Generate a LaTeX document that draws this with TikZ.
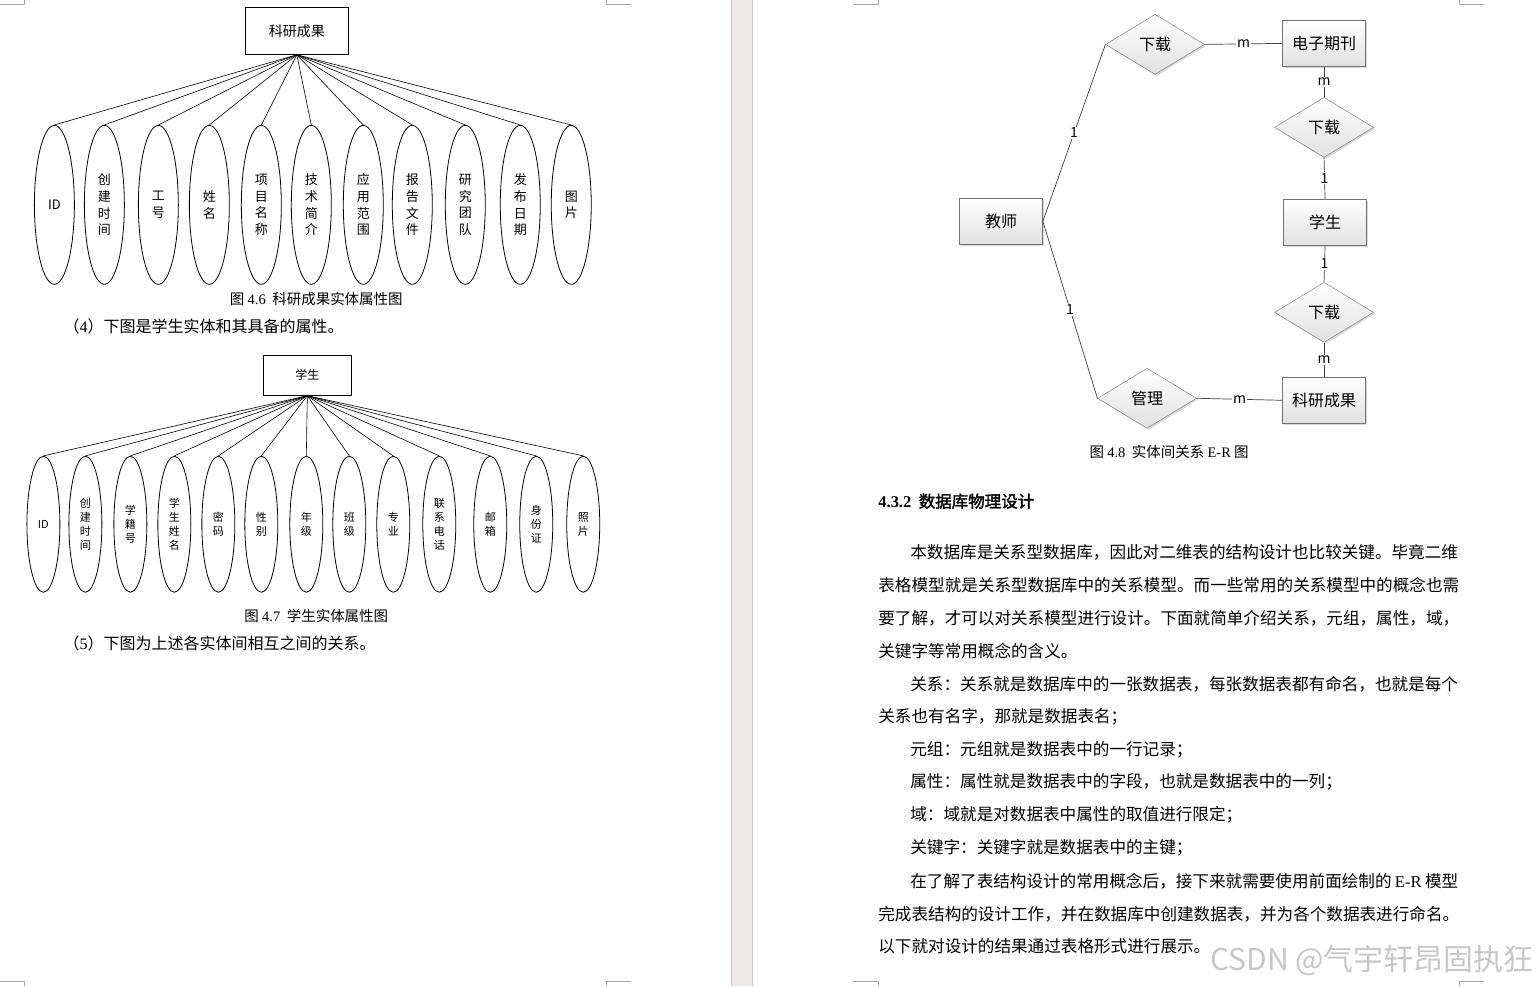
\documentclass[tikz,border=0pt]{standalone}
\usepackage{fontspec}
\setmainfont{Liberation Serif}
\newfontfamily\cjk{Noto Sans CJK SC}
\newfontfamily\cjkb[FakeBold=2]{Noto Sans CJK SC}
\usetikzlibrary{shapes.geometric, shadows}
\XeTeXlinebreaklocale "zh"
\XeTeXlinebreakskip=0pt plus 1pt
\definecolor{gap}{RGB}{236,233,231}
\newcommand{\fs}[1]{\fontsize{#1}{#1}\selectfont}
\newcommand{\jl}[2]{\hbox to #1{#2}}
\tikzset{
  ent/.style = {rectangle, draw=black, fill=white, inner sep=0pt,
    line width=0.8pt, font=\cjk\fs{14}},
  att/.style = {ellipse, draw=black, fill=white, inner sep=0pt, align=center,
    line width=0.8pt, font=\cjk\fontsize{13}{16.7}\selectfont},
  lk/.style = {draw=black, line width=0.6pt},
  erb/.style = {rectangle, draw=black!55, top color=white, bottom color=black!12,
    drop shadow={shadow xshift=1.5pt, shadow yshift=-1.5pt, fill=black!30},
    minimum width=83pt, minimum height=46pt, font=\cjk\fs{16}},
  rel/.style = {diamond, draw=black!55, top color=white, bottom color=black!12,
    drop shadow={shadow xshift=1.5pt, shadow yshift=-1.5pt, fill=black!30},
    minimum width=99pt, minimum height=60pt, inner sep=0pt, font=\cjk\fs{16}},
  el/.style = {draw=black!75, line width=0.7pt},
  card/.style = {fill=white, inner sep=1pt, font=\cjk\fs{14}},
  leg/.style = {inner sep=0pt, font=\cjk\fs{14.5}},
  txt/.style = {anchor=west, inner sep=0pt, font=\cjk\fs{16.6}},
  mk/.style = {draw=black!35, line width=0.8pt}
}

\begin{document}
\begin{tikzpicture}[x=1pt, y=-1pt]
  \fill [white] (0,0) rectangle (1537,986);
  % page gap
  \fill [gap] (731,0) rectangle (752,986);
  \draw [black!22] (731,0) -- (731,986) (752,0) -- (752,986);
  \draw [mk] (0,4) -- (24,4) -- (24,0) (606,0) -- (606,4) -- (631,4);
  \draw [mk] (853,4) -- (878,4) -- (878,0) (1459,0) -- (1459,4) -- (1484,4);
  \draw [mk] (0,981) -- (24,981) -- (24,986) (606,986) -- (606,981) -- (631,981);
  \draw [mk] (853,981) -- (878,981) -- (878,986) (1459,986) -- (1459,981) -- (1484,981);

  % fig 4.6
  \node [ent, minimum width=103pt, minimum height=47pt] (kb) at (296.5,30.5) {科研成果};
  \foreach \x/\t [count=\i] in {54/ID, 104/创\\建\\时\\间, 158/工\\号, 209/姓\\名,
      261/项\\目\\名\\称, 311/技\\术\\简\\介, 363/应\\用\\范\\围, 412/报\\告\\文\\件,
      465/研\\究\\团\\队, 520/发\\布\\日\\期, 571/图\\片}
    \node [att, minimum width=40pt, minimum height=159pt] (a\i) at (\x,204.5) {\t};
  \foreach \i in {1,...,11} \draw [lk] (kb.south) -- (a\i.north);
  \node [leg] (c46) at (316,299) {图 {\rmfamily 4.6}\ \ 科研成果实体属性图};
  \node [txt, font=\cjk\fs{16}] (p4) at (63,326) {（{\rmfamily 4}）下图是学生实体和其具备的属性。};

  % fig 4.7
  \node [ent, minimum width=88pt, minimum height=40pt, font=\cjk\fs{12}] (xs) at (307,375) {学生};
  \foreach \x/\t [count=\i] in {43/ID, 85/创\\建\\时\\间, 130/学\\籍\\号, 174/学\\生\\姓\\名,
      218/密\\码, 261/性\\别, 306/年\\级, 349/班\\级, 393/专\\业, 439/联\\系\\电\\话,
      490/邮\\箱, 536/身\\份\\证, 583/照\\片}
    \node [att, minimum width=33pt, minimum height=136pt,
      font=\cjk\fontsize{11}{14}\selectfont] (b\i) at (\x,524) {\t};
  \foreach \i in {1,...,13} \draw [lk] (xs.south) -- (b\i.north);
  \node [leg] (c47) at (316,616) {图 {\rmfamily 4.7}\ \ 学生实体属性图};
  \node [txt, font=\cjk\fs{16}] (p5) at (63,643) {（{\rmfamily 5}）下图为上述各实体间相互之间的关系。};

  % fig 4.8
  \node [erb] (js) at (1001,221) {教师};
  \node [rel] (xz1) at (1155,44) {下载};
  \node [erb] (dz) at (1324,43) {电子期刊};
  \node [rel] (xz2) at (1324,127) {下载};
  \node [erb] (xs2) at (1325,222) {学生};
  \node [rel] (xz3) at (1324,312) {下载};
  \node [erb] (ky) at (1324,400) {科研成果};
  \node [rel] (gl) at (1147,398) {管理};
  \draw [el] (js.east) -- node [card] {1} (xz1.west);
  \draw [el] (js.east) -- node [card] {1} (gl.west);
  \draw [el] (xz1.east) -- node [card] {m} (dz.west);
  \draw [el] (dz.south) -- node [card] {m} (xz2.north);
  \draw [el] (xz2.south) -- node [card] {1} (xs2.north);
  \draw [el] (xs2.south) -- node [card] {1} (xz3.north);
  \draw [el] (xz3.south) -- node [card] {m} (ky.north);
  \draw [el] (gl.east) -- node [card] {m} (ky.west);
  \node [leg] (c48) at (1169,452) {图 {\rmfamily 4.8}\ \ 实体间关系 {\rmfamily E-R} 图};

  % text
  \node [txt, font=\cjkb\fs{16.5}] (h) at (878,501) {{\rmfamily\bfseries 4.3.2}\ \ 数据库物理设计};
  \node [txt] (l1) at (910,552) {\jl{548pt}{本数据库是关系型数据库，因此对二维表的结构设计也比较关键。毕竟二维}};
  \node [txt] (l2) at (878,585) {\jl{580pt}{表格模型就是关系型数据库中的关系模型。而一些常用的关系模型中的概念也需}};
  \node [txt] (l3) at (878,618) {\jl{580pt}{要了解，才可以对关系模型进行设计。下面就简单介绍关系，元组，属性，域，}};
  \node [txt] (l4) at (878,651) {关键字等常用概念的含义。};
  \node [txt] (l5) at (910,684) {\jl{548pt}{关系：关系就是数据库中的一张数据表，每张数据表都有命名，也就是每个}};
  \node [txt] (l6) at (878,717) {关系也有名字，那就是数据表名；};
  \node [txt] (l7) at (910,750) {元组：元组就是数据表中的一行记录；};
  \node [txt] (l8) at (910,782) {属性：属性就是数据表中的字段，也就是数据表中的一列；};
  \node [txt] (l9) at (910,815) {域：域就是对数据表中属性的取值进行限定；};
  \node [txt] (l10) at (910,848) {关键字：关键字就是数据表中的主键；};
  \node [txt] (l11) at (910,881) {\jl{548pt}{在了解了表结构设计的常用概念后，接下来就需要使用前面绘制的 {\rmfamily E-R} 模型}};
  \node [txt] (l12) at (878,914) {\jl{580pt}{完成表结构的设计工作，并在数据库中创建数据表，并为各个数据表进行命名。}};
  \node [txt] (l13) at (878,946) {以下就对设计的结果通过表格形式进行展示。};
  \node [inner sep=0pt, anchor=east, text=black!22, font=\cjk\fs{30}] (wm) at (1534,960) {CSDN @气宇轩昂固执狂};
\end{tikzpicture}
\end{document}
